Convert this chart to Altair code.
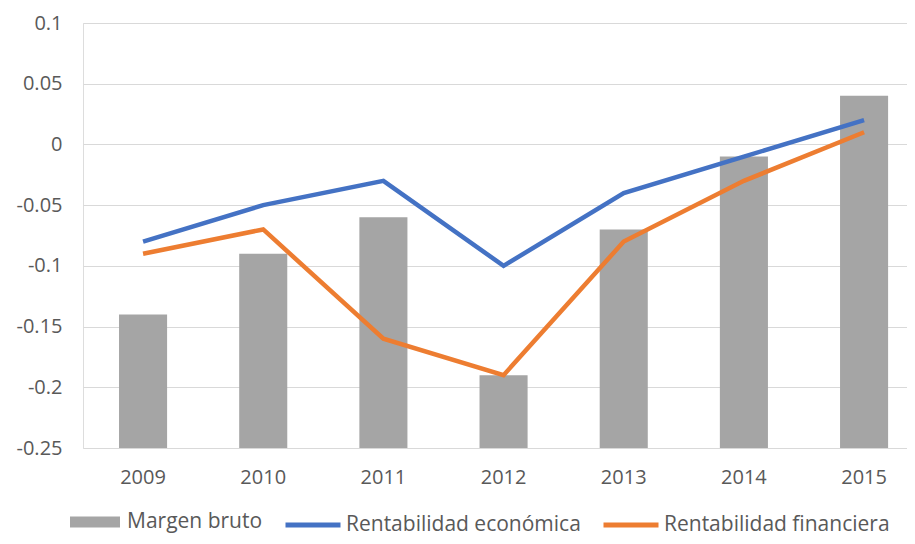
import altair as alt
import pandas as pd

years = ["2009", "2010", "2011", "2012", "2013", "2014", "2015"]
margen_bruto = [-0.14, -0.09, -0.06, -0.19, -0.07, -0.01, 0.04]
rent_economica = [-0.08, -0.05, -0.03, -0.10, -0.04, -0.01, 0.02]
rent_financiera = [-0.09, -0.07, -0.16, -0.19, -0.08, -0.03, 0.01]
y_ticks = [-0.25, -0.2, -0.15, -0.1, -0.05, 0, 0.05, 0.1]

bars_df = pd.DataFrame({"year": years, "value": margen_bruto, "serie": "Margen bruto"})
lines_df = pd.DataFrame(
    {
        "year": years * 2,
        "value": rent_economica + rent_financiera,
        "serie": ["Rentabilidad económica"] * len(years) + ["Rentabilidad financiera"] * len(years),
    }
)

FONT = "Open Sans"
TXT = "#595959"

x_enc = alt.X(
    "year:N",
    sort=years,
    title=None,
    scale=alt.Scale(paddingInner=0.6, paddingOuter=0.2285, align=0.656),
    axis=alt.Axis(labelAngle=0, domain=False, ticks=False, labelPadding=19,
                  labelFontSize=20, labelColor=TXT, labelFont=FONT),
)
y_scale = alt.Scale(domain=[-0.25, 0.1], nice=False, zero=False)
y_axis = alt.Axis(values=y_ticks, labelExpr="'' + datum.value", domain=False, ticks=False,
                  labelPadding=21, labelFontSize=20, labelColor=TXT, labelFont=FONT,
                  gridColor="#D9D9D9", gridWidth=1)

bars = alt.Chart(bars_df).mark_bar(color="#A5A5A5").encode(
    x=x_enc,
    y=alt.Y("value:Q", scale=y_scale, axis=y_axis, title=None),
    y2=alt.datum(-0.25),
    color=alt.Color(
        "serie:N",
        scale=alt.Scale(domain=["Margen bruto"], range=["#A5A5A5"]),
        legend=alt.Legend(
            title=None, orient="none", legendX=-13, legendY=474,
            symbolType="M-1,-0.22L1,-0.22L1,0.22L-1,0.22Z", symbolSize=2500,
            symbolStrokeWidth=0, symbolOpacity=1,
            labelFontSize=21, labelColor=TXT, labelFont=FONT, labelOffset=7,
            labelLimit=400,
        ),
    ),
)

lines = alt.Chart(lines_df).mark_line(strokeWidth=4.5).encode(
    x=x_enc,
    y=alt.Y("value:Q", scale=y_scale, axis=y_axis, title=None),
    color=alt.Color(
        "serie:N",
        scale=alt.Scale(domain=["Rentabilidad económica", "Rentabilidad financiera"],
                        range=["#4472C4", "#ED7D31"]),
        legend=alt.Legend(
            title=None, orient="none", legendX=200, legendY=472, direction="horizontal",
            symbolType="stroke", symbolSize=3025, symbolStrokeWidth=5,
            labelFontSize=21, labelColor=TXT, labelFont=FONT, labelOffset=3,
            columnPadding=12, labelLimit=400,
        ),
    ),
)

chart = (
    alt.layer(bars, lines)
    .resolve_scale(color="independent")
    .properties(
        width=824, height=425,
        autosize=alt.AutoSizeParams(type="none"),
        padding={"left": 75, "top": 15, "right": 0, "bottom": 88},
    )
    .configure_view(stroke=None)
    .configure(background="white")
)

chart.save("out.html", embed_options={"renderer": "svg", "actions": False})
